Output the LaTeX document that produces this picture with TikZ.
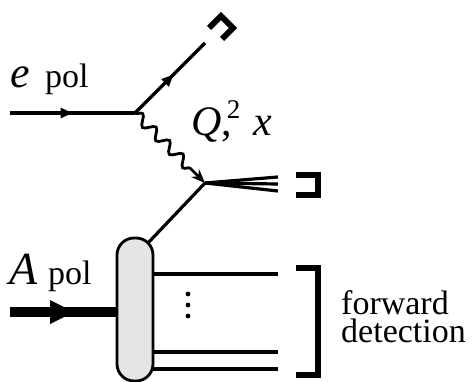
\documentclass[tikz,border=0pt]{standalone}
\usepackage{fontspec}
\setmainfont{Liberation Serif}
\usetikzlibrary{decorations.pathmorphing,decorations.markings,arrows.meta}
\begin{document}
\begin{tikzpicture}[x=1pt,y=-1pt,
  fline/.style={line width=3.2pt},
  midarrow/.style={postaction={decorate},decoration={markings,mark=at position #1 with {\arrow{Triangle[length=12pt,width=10pt]}}}},
  brk/.style={line width=6pt,line join=miter},
  photon/.style={line width=2.8pt,decorate,decoration={snake,amplitude=5pt,segment length=19pt,post length=13pt}},
  lbl/.style={inner sep=0pt,anchor=base west}]
\useasboundingbox (0,0) rectangle (476,382);
% coordinates
\coordinate (ein) at (10,113);
\coordinate (v1) at (135,113);
\coordinate (eout) at (205,43);
\coordinate (v2) at (205,183);
\coordinate (j1) at (278,177);
\coordinate (j2) at (278,184);
\coordinate (j3) at (278,191);
\coordinate (Ain) at (10,312);
\coordinate (btop) at (148,243);
% blob
\node[draw,line width=2.8pt,fill=gray!20,rounded corners=17pt,minimum width=36pt,minimum height=143pt,inner sep=0pt] (blob) at (135,309.5) {};
% electron
\draw[fline,midarrow=0.5] (ein) -- (v1);
\draw[fline,midarrow=0.55] (v1) -- (eout);
% photon
\draw[photon,-{Stealth[length=14pt,width=11pt]}] (v1) -- (v2);
% jets
\draw[fline] (v2) -- (j1);
\draw[fline] (v2) -- (j2);
\draw[fline] (v2) -- (j3);
% struck line
\draw[fline] (btop) -- (v2);
% nucleus beam
\draw[line width=10pt] (Ain) -- (blob.west |- Ain);
\fill (50,300) -- (74,312) -- (50,324) -- cycle;
% forward lines
\coordinate (f1s) at (153,274); \coordinate (f1e) at (278,274);
\coordinate (f2s) at (153,352); \coordinate (f2e) at (278,352);
\coordinate (f3s) at (153,369); \coordinate (f3e) at (278,369);
\draw[fline] (f1s) -- (f1e);
\draw[fline] (f2s) -- (f2e);
\draw[fline] (f3s) -- (f3e);
\fill (188,294) circle (2.4pt) (188,305) circle (2.4pt) (188,316) circle (2.4pt);
% brackets
\draw[brk] (209,28) -- (221,16) -- (233,28) -- (222,39);
\draw[brk] (296,175) -- (318,175) -- (318,195) -- (296,195);
\draw[brk] (296,268) -- (318,268) -- (318,375) -- (296,375);
% labels
\node[lbl,font=\fontsize{44}{44}\selectfont\itshape] (e) at (10,88) {e};
\node[lbl,font=\fontsize{34}{34}\selectfont] (epol) at (45,88) {pol};
\node[lbl,font=\fontsize{46}{46}\selectfont\itshape] (A) at (9,284) {A};
\node[lbl,font=\fontsize{34}{34}\selectfont] (Apol) at (48,284) {pol};
\node[lbl,font=\fontsize{42}{42}\selectfont] (q) at (191,136) {\itshape Q\upshape,\kern-0.12em\raisebox{0.42em}{\fontsize{27}{27}\selectfont 2}\kern0.3em\itshape x};
\node[lbl,font=\fontsize{34}{34}\selectfont] (fw) at (341,314) {forward};
\node[lbl,font=\fontsize{34}{34}\selectfont] (det) at (341,342) {detection};
\end{tikzpicture}
\end{document}
